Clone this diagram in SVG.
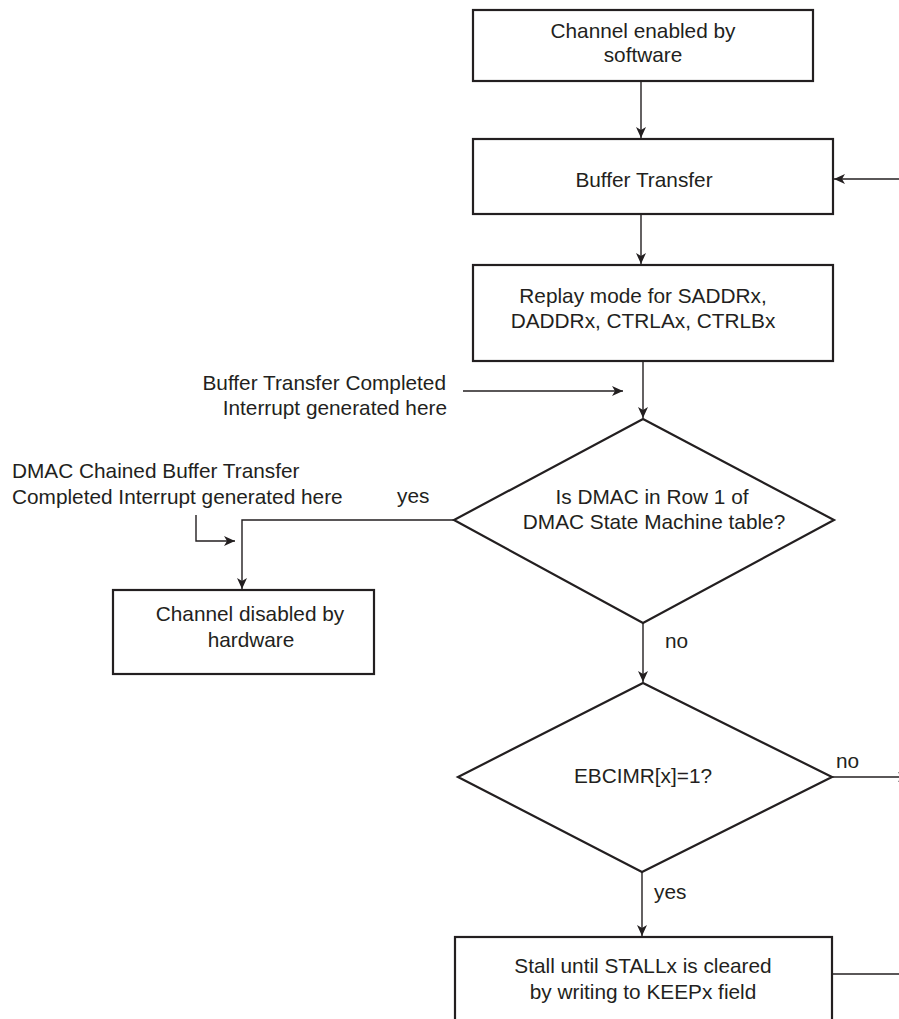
<svg xmlns="http://www.w3.org/2000/svg" width="899" height="1019" viewBox="0 0 899 1019">
<defs>
<marker id="arr" markerWidth="12" markerHeight="10" refX="11" refY="5" orient="auto" markerUnits="userSpaceOnUse">
<path d="M0,0 L11,5 L0,10 L3,5 Z" fill="#231f20"/>
</marker>
</defs>
<style>
.box{fill:#fff;stroke:#231f20;stroke-width:2.2}
.con{fill:none;stroke:#231f20;stroke-width:1.4}
text{font-family:"Liberation Sans",Arial,sans-serif;font-size:20.8px;fill:#231f20}
.c{text-anchor:middle}
.r{text-anchor:end}
</style>
<rect width="899" height="1019" fill="#fff"/>
<g id="connectors">
<line class="con" x1="641" y1="81" x2="641" y2="138" marker-end="url(#arr)"/>
<line class="con" x1="899" y1="179" x2="834" y2="179" marker-end="url(#arr)"/>
<line class="con" x1="641" y1="214" x2="641" y2="264" marker-end="url(#arr)"/>
<line class="con" x1="643" y1="361" x2="643" y2="418" marker-end="url(#arr)"/>
<line class="con" x1="463" y1="391" x2="623" y2="391" marker-end="url(#arr)"/>
<polyline class="con" points="454,520 242,520 242,589" marker-end="url(#arr)"/>
<polyline class="con" points="196,515 196,541 235,541" marker-end="url(#arr)"/>
<line class="con" x1="643" y1="623" x2="643" y2="682" marker-end="url(#arr)"/>
<line class="con" x1="832" y1="777" x2="909" y2="777" marker-end="url(#arr)"/>
<line class="con" x1="642" y1="872" x2="642" y2="936" marker-end="url(#arr)"/>
<line class="con" x1="827" y1="974" x2="899" y2="974"/>
</g>
<g id="n1">
<rect class="box" x="473" y="10" width="340" height="71"/>
<text class="c" x="643" y="38">Channel enabled by</text>
<text class="c" x="643" y="62">software</text>
</g>
<g id="n2">
<rect class="box" x="473" y="139" width="360" height="75"/>
<text class="c" x="644" y="187">Buffer Transfer</text>
</g>
<g id="n3">
<rect class="box" x="473" y="265" width="360" height="96"/>
<text class="c" x="643" y="303">Replay mode for SADDRx,</text>
<text class="c" x="643" y="328">DADDRx, CTRLAx, CTRLBx</text>
</g>
<g id="lbl1">
<text class="r" x="446" y="390">Buffer Transfer Completed</text>
<text class="r" x="447" y="415">Interrupt generated here</text>
</g>
<g id="d1">
<polygon class="box" points="643,419 834,520 643,623 454,520"/>
<text class="c" x="652" y="504">Is DMAC in Row 1 of</text>
<text class="c" x="654" y="529">DMAC State Machine table?</text>
</g>
<g id="lbl2">
<text x="12" y="478">DMAC Chained Buffer Transfer</text>
<text x="12" y="504">Completed Interrupt generated here</text>
</g>
<text x="397" y="503">yes</text>
<g id="n4">
<rect class="box" x="113" y="590" width="261" height="84"/>
<text class="c" x="250" y="621">Channel disabled by</text>
<text class="c" x="251" y="647">hardware</text>
</g>
<text x="665" y="648">no</text>
<g id="d2">
<polygon class="box" points="643,683 832,777 642,872 458,777"/>
<text class="c" x="643" y="783">EBCIMR[x]=1?</text>
</g>
<text x="836" y="768">no</text>
<text x="654" y="899">yes</text>
<g id="n5">
<rect class="box" x="455" y="937" width="377" height="100"/>
<text class="c" x="643" y="973">Stall until STALLx is cleared</text>
<text class="c" x="643" y="999">by writing to KEEPx field</text>
</g>
</svg>
